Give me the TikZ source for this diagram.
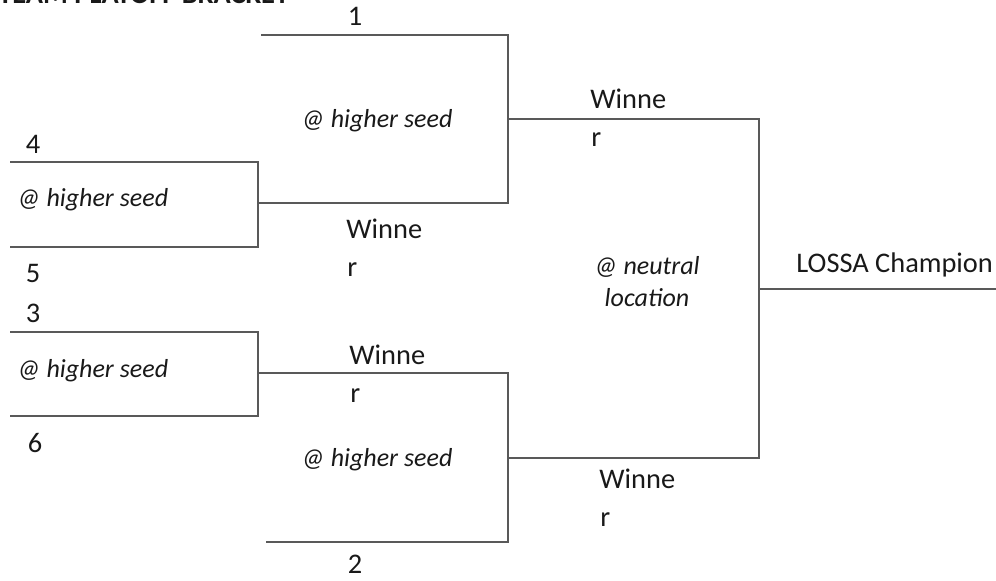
\documentclass[tikz,border=0pt]{standalone}
\usepackage{fontspec}
\setmainfont{Carlito}
\usetikzlibrary{positioning}
\tikzset{bline/.style={draw, line width=1.2pt, black!65, line join=miter}}
\tikzset{lbl/.style={inner sep=0, anchor=base, text=black!90, font=\fontsize{14.2}{17}\selectfont}}
\tikzset{venue/.style={lbl, font=\fontsize{13}{16}\selectfont\itshape}}

\begin{document}
\begin{tikzpicture}[x=0.5pt, y=-0.5pt]
  \useasboundingbox (0,0) rectangle (996,581);
  \node[lbl, anchor=base west, font=\bfseries\fontsize{14.2}{17}\selectfont] (title) at (-2,4) {TEAM PLAYOFF BRACKET};

  % first round
  \coordinate (q1t) at (10,162);  \coordinate (q1tr) at (258,162);
  \coordinate (q1b) at (10,247);  \coordinate (q1br) at (258,247);
  \coordinate (q1o) at (258,203);
  \coordinate (q2t) at (10,332);  \coordinate (q2tr) at (258,332);
  \coordinate (q2b) at (10,416);  \coordinate (q2br) at (258,416);
  \coordinate (q2o) at (258,373);
  % semifinals
  \coordinate (s1t) at (261,35);  \coordinate (s1tr) at (508,35);
  \coordinate (s1br) at (508,203); \coordinate (s1o) at (508,119);
  \coordinate (s2tr) at (508,373); \coordinate (s2br) at (508,542);
  \coordinate (s2b) at (266,542);  \coordinate (s2o) at (508,458);
  % final
  \coordinate (ftr) at (759,119); \coordinate (fbr) at (759,458);
  \coordinate (fo) at (759,289);  \coordinate (champ) at (996,289);

  \draw[bline] (q1t) -- (q1tr) -- (q1br) -- (q1b);
  \draw[bline] (q2t) -- (q2tr) -- (q2br) -- (q2b);
  \draw[bline] (s1t) -- (s1tr) -- (s1br) -- (q1o);
  \draw[bline] (q2o) -- (s2tr) -- (s2br) -- (s2b);
  \draw[bline] (s1o) -- (ftr) -- (fbr) -- (s2o);
  \draw[bline] (fo) -- (champ);

  % seeds
  \node[lbl] (seed1) at (355,26) {1};
  \node[lbl] (seed4) at (33,154) {4};
  \node[lbl] (seed5) at (33,283) {5};
  \node[lbl] (seed3) at (33,323) {3};
  \node[lbl] (seed6) at (35,453) {6};
  \node[lbl] (seed2) at (355,574) {2};

  % venues
  \node[venue, anchor=base west] (v45) at (17,207) {@ higher seed};
  \node[venue, anchor=base west] (v36) at (17,378) {@ higher seed};
  \node[venue] (vs1) at (377,128) {@ higher seed};
  \node[venue] (vs2) at (377,467) {@ higher seed};
  \node[venue, align=center, anchor=base] (vf) at (647,307) {@ neutral\\location};

  % winners
  \node[lbl, anchor=base west] (w45) at (346,239) {Winne};
  \node[lbl, anchor=base west] (w45r) at (347,277) {r};
  \node[lbl, anchor=base west] (w36) at (349,365) {Winne};
  \node[lbl, anchor=base west] (w36r) at (350,403) {r};
  \node[lbl, anchor=base west] (ws1) at (590,109) {Winne};
  \node[lbl, anchor=base west] (ws1r) at (591,147) {r};
  \node[lbl, anchor=base west] (ws2) at (599,489) {Winne};
  \node[lbl, anchor=base west] (ws2r) at (600,527) {r};
  \node[lbl, anchor=base west] (champion) at (796,273) {LOSSA Champion};
\end{tikzpicture}
\end{document}
